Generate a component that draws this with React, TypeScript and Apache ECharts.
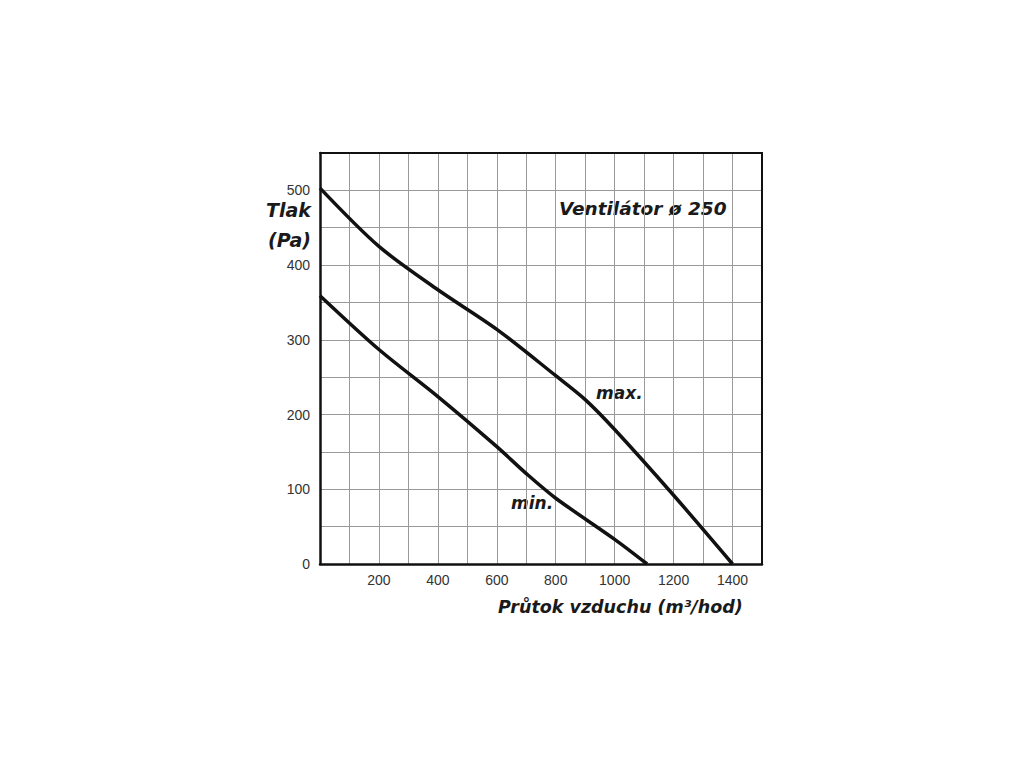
import { useEffect, useRef } from 'react';
import * as echarts from 'echarts';

// air flow (m3/hod) vs pressure (Pa)
const maxFlow = [0, 200, 400, 600, 800, 900, 1000, 1200, 1400];
const maxPressure = [503, 425, 367, 314, 252, 220, 180, 92, 0];

const minFlow = [0, 200, 400, 600, 700, 800, 1000, 1110];
const minPressure = [359, 287, 224, 157, 121, 88, 33, 0];

const title = 'Ventilátor ø 250';
const yTitle = ['Tlak', '(Pa)'];
const xTitle = 'Průtok vzduchu (m³/hod)';

const titleFont = {
    fontFamily: 'DejaVu Sans',
    fontWeight: 'bold',
    fontStyle: 'italic',
    fill: '#1a1a1a',
};

const frameAxis = {
    type: 'value',
    axisLine: { show: true, onZero: false, lineStyle: { color: '#111', width: 2 } },
    axisTick: { show: false },
    axisLabel: { show: false },
    splitLine: { show: false },
};

export default function App() {
    const chartRef = useRef<HTMLDivElement>(null);

    useEffect(() => {
        if (!chartRef.current) return;
        const chart = echarts.init(chartRef.current, null, { renderer: 'svg' });

        const option = {
            animation: false,
            backgroundColor: '#fff',
            grid: {
                left: 320,
                right: 262,
                top: 153,
                bottom: 204,
            },
            xAxis: [
                {
                    type: 'value',
                    min: 0,
                    max: 1500,
                    interval: 100,
                    axisLine: { show: true, onZero: false, lineStyle: { color: '#111', width: 2.5 } },
                    axisTick: { show: false },
                    axisLabel: {
                        color: '#333',
                        fontFamily: 'Liberation Sans',
                        fontSize: 14,
                        margin: 9,
                        formatter: (v: number) => (v % 200 === 0 && v > 0 && v < 1500 ? String(v) : ''),
                    },
                    splitLine: { show: true, lineStyle: { color: '#9a9a9a', width: 1 } },
                },
                { ...frameAxis, position: 'top', min: 0, max: 1500 },
            ],
            yAxis: [
                {
                    type: 'value',
                    min: 0,
                    max: 550,
                    interval: 50,
                    axisLine: { show: true, onZero: false, lineStyle: { color: '#111', width: 2.5 } },
                    axisTick: { show: false },
                    axisLabel: {
                        color: '#333',
                        fontFamily: 'Liberation Sans',
                        fontSize: 14,
                        margin: 10,
                        formatter: (v: number) => (v % 100 === 0 ? String(v) : ''),
                    },
                    splitLine: { show: true, lineStyle: { color: '#9a9a9a', width: 1 } },
                },
                { ...frameAxis, position: 'right', min: 0, max: 550 },
            ],
            series: [
                {
                    name: 'max.',
                    type: 'line',
                    smooth: 0.3,
                    symbol: 'none',
                    lineStyle: { color: '#111', width: 3.5 },
                    data: maxFlow.map((f, i) => [f, maxPressure[i]]),
                },
                {
                    name: 'min.',
                    type: 'line',
                    smooth: 0.3,
                    symbol: 'none',
                    lineStyle: { color: '#111', width: 3.5 },
                    data: minFlow.map((f, i) => [f, minPressure[i]]),
                },
            ],
            graphic: [
                { type: 'text', left: 559, top: 199, style: { ...titleFont, text: title, fontSize: 18.5 } },
                { type: 'text', right: 1024 - 311, top: 200, style: { ...titleFont, text: yTitle[0], fontSize: 19 } },
                { type: 'text', right: 1024 - 311, top: 230, style: { ...titleFont, text: yTitle[1], fontSize: 19 } },
                { type: 'text', left: 596, top: 384, style: { ...titleFont, text: 'max.', fontSize: 17 } },
                { type: 'text', left: 511, top: 494, style: { ...titleFont, text: 'min.', fontSize: 17 } },
                { type: 'text', left: 498, top: 598, style: { ...titleFont, text: xTitle, fontSize: 17.5 } },
            ],
        };

        chart.setOption(option);
        return () => chart.dispose();
    }, []);

    return (
        <div
            ref={chartRef}
            style={{ position: 'absolute', left: 0, top: 0, width: 1024, height: 768 }}
        />
    );
}
